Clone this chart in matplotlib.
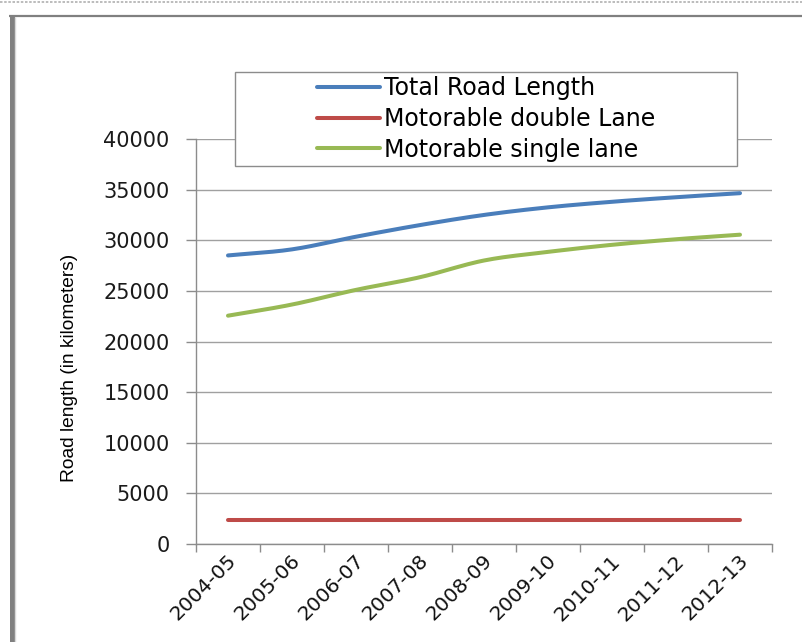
import matplotlib
matplotlib.use("Agg")
import matplotlib.pyplot as plt
import matplotlib.transforms as mtransforms
from matplotlib.lines import Line2D
from matplotlib.patches import Rectangle
import numpy as np

# data
years = ['2004-05', '2005-06', '2006-07', '2007-08', '2008-09',
         '2009-10', '2010-11', '2011-12', '2012-13']
total_road = [28500, 29100, 30350, 31500, 32500, 33250, 33800, 34250, 34650]
double_lane = [2400, 2400, 2400, 2400, 2400, 2400, 2400, 2400, 2400]
single_lane = [22550, 23650, 25100, 26350, 28000, 28850, 29550, 30100, 30550]

series = [
    ('Total Road Length', total_road, '#4a7ebb'),
    ('Motorable double Lane', double_lane, '#be4b48'),
    ('Motorable single lane', single_lane, '#98b954'),
]

W, H = 802, 642
DPI = 100


def smooth(x, y, n=20):
    """Catmull-Rom curve through the points (like Excel's smoothed line)."""
    x = np.asarray(x, float)
    y = np.asarray(y, float)
    px = np.concatenate([[2 * x[0] - x[1]], x, [2 * x[-1] - x[-2]]])
    py = np.concatenate([[2 * y[0] - y[1]], y, [2 * y[-1] - y[-2]]])
    xs, ys = [], []
    t = np.linspace(0, 1, n, endpoint=False)
    for i in range(1, len(px) - 2):
        for p, out in ((px, xs), (py, ys)):
            p0, p1, p2, p3 = p[i - 1], p[i], p[i + 1], p[i + 2]
            out.append(0.5 * ((2 * p1) + (-p0 + p2) * t
                              + (2 * p0 - 5 * p1 + 4 * p2 - p3) * t ** 2
                              + (-p0 + 3 * p1 - 3 * p2 + p3) * t ** 3))
    xs.append([x[-1]])
    ys.append([y[-1]])
    return np.concatenate(xs), np.concatenate(ys)


fig = plt.figure(figsize=(W / DPI, H / DPI), dpi=DPI)
fig.patch.set_facecolor('white')

# frame decorations around the chart
fig.add_artist(Line2D([0, 1], [1 - 1.5 / H] * 2, color='#b0b0b0', lw=1.2,
                      linestyle=(0, (1.5, 1)), transform=fig.transFigure))
fig.add_artist(Line2D([11.5 / W, 11.5 / W], [0, 1 - 15 / H], color='#808080', lw=3.6,
                      transform=fig.transFigure, solid_capstyle='butt'))
fig.add_artist(Line2D([14.5 / W, 14.5 / W], [0, 1 - 17 / H], color='#d8d8d8', lw=1,
                      transform=fig.transFigure, solid_capstyle='butt'))
fig.add_artist(Line2D([9 / W, 1], [1 - 16 / H] * 2, color='#808080', lw=1.6,
                      transform=fig.transFigure, solid_capstyle='butt'))

left, right, top, bottom = 196, 772, 139, 544
ax = fig.add_axes([left / W, 1 - bottom / H, (right - left) / W, (bottom - top) / H])

x = np.arange(len(years))
handles = []
for name, vals, color in series:
    sx, sy = smooth(x, vals)
    ax.plot(sx, sy, color=color, lw=2.9, solid_capstyle='round', zorder=3)
    handles.append(Line2D([], [], color=color, lw=2.9, solid_capstyle='round', label=name))

ax.set_xlim(-0.5, len(years) - 0.5)
ax.set_ylim(0, 40000)
ax.set_yticks(np.arange(0, 40001, 5000))
ax.yaxis.grid(True, color='#a0a0a0', lw=1)
ax.set_axisbelow(True)

for s in ['top', 'right']:
    ax.spines[s].set_visible(False)
for s in ['left', 'bottom']:
    ax.spines[s].set_color('#8c8c8c')
    ax.spines[s].set_linewidth(1)

ax.tick_params(axis='y', length=7, width=1, color='#8c8c8c', pad=12,
               labelsize=15, labelcolor='#1a1a1a')

# category labels in the middle, tick marks on the boundaries
ax.set_xticks(x)
ax.set_xticks(np.arange(-0.5, len(years), 1), minor=True)
ax.tick_params(axis='x', which='major', length=0, pad=10, labelsize=14.5,
               labelcolor='#111111')
ax.tick_params(axis='x', which='minor', length=6, width=1, color='#8c8c8c')
ax.set_xticklabels(years, rotation=45, ha='right', va='center',
                   rotation_mode='anchor')
shift = mtransforms.ScaledTranslation(5 / DPI, 0, fig.dpi_scale_trans)
for lab in ax.get_xticklabels():
    lab.set_transform(lab.get_transform() + shift)

fig.text(69 / W, 1 - 368 / H, 'Road length (in kilometers)', rotation=90,
         ha='center', va='center', fontsize=13.8, color='#000000',
         family=['Liberation Sans', 'DejaVu Sans'])

# legend box
bx0, bx1, by0, by1 = 235, 737, 72, 166
fig.add_artist(Rectangle((bx0 / W, 1 - by1 / H), (bx1 - bx0) / W, (by1 - by0) / H,
                         transform=fig.transFigure, facecolor='white',
                         edgecolor='#8c8c8c', lw=1, zorder=4))
leg = fig.legend(handles=handles, loc='center',
                 bbox_to_anchor=((bx0 + bx1) / 2 / W, 1 - (by0 + by1) / 2 / H),
                 frameon=False, fontsize=17, handlelength=2.7,
                 handletextpad=0.15, labelspacing=0.28, borderpad=0)
leg.set_zorder(5)

fig.savefig('out.png', dpi=DPI, facecolor='white')
